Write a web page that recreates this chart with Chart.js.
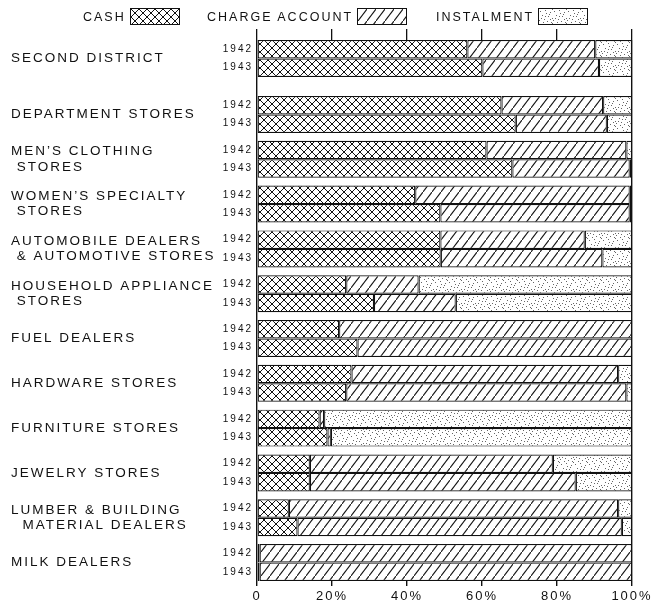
<!DOCTYPE html>
<html>
<head>
<meta charset="utf-8">
<script src="https://cdn.jsdelivr.net/npm/chart.js@4.4.1/dist/chart.umd.min.js"></script>
<style>
    html, body { margin: 0; padding: 0; background: #fff; }
    #wrap { position: relative; width: 660px; height: 605px; }
    #legend { position: absolute; top: 8px; left: 0; width: 660px; height: 20px;
        font: 12.5px "Liberation Sans", sans-serif; letter-spacing: 2px; color: #111; }
    .item { position: absolute; top: 0; display: flex; align-items: center; }
    .item canvas { margin-left: 4px; border: 1.5px solid #111; display: block; }
</style>
</head>
<body>
<div id="wrap">
    <canvas id="chart" width="660" height="605"></canvas>
    <div id="legend"></div>
</div>
<script>
const categories = [
    "SECOND DISTRICT",
    "DEPARTMENT STORES",
    ["MEN\u2019S CLOTHING", " STORES"],
    ["WOMEN\u2019S SPECIALTY", " STORES"],
    ["AUTOMOBILE DEALERS", " & AUTOMOTIVE STORES"],
    ["HOUSEHOLD APPLIANCE", " STORES"],
    "FUEL DEALERS",
    "HARDWARE STORES",
    "FURNITURE STORES",
    "JEWELRY STORES",
    ["LUMBER & BUILDING", "  MATERIAL DEALERS"],
    "MILK DEALERS"
];
const years = ["1942", "1943"];
const seriesNames = ["CASH", "CHARGE ACCOUNT", "INSTALMENT"];

// percent of sales
const cash1942   = [56.1, 65.2, 61.2, 42.2, 48.9, 23.8, 21.9, 25.2, 16.7, 14.1, 8.5, 0.7];
const charge1942 = [34.1, 27.1, 37.3, 57.2, 38.5, 19.3, 78.1, 71.1, 1.2, 64.8, 87.8, 99.3];
const inst1942   = [9.8, 7.7, 1.5, 0.6, 12.6, 56.9, 0, 3.7, 82.1, 21.1, 3.7, 0];

const cash1943   = [60.1, 69.0, 68.1, 48.9, 49.0, 31.2, 26.8, 23.8, 18.8, 14.1, 10.8, 0.7];
const charge1943 = [31.1, 24.3, 31.3, 50.5, 43.1, 21.8, 73.2, 74.7, 0.9, 70.9, 86.5, 99.3];
const inst1943   = [8.8, 6.7, 0.6, 0.6, 7.9, 47.0, 0, 1.5, 80.3, 15.0, 2.7, 0];

const xTicks = [0, 20, 40, 60, 80, 100];

// layout: extra space after the district total
const catPct = 0.825;
const groupPos = categories.map((c, i) => i === 0 ? 0 : i + 0.25);
const half = catPct / 2;
const yearPos = groupPos.flatMap(p => [p - half / 2, p + half / 2]);

function makePattern(kind) {
    const c = document.createElement("canvas");
    const g = c.getContext("2d");
    if (kind === 0) {
        c.width = 8; c.height = 8;
        g.fillStyle = "#fff"; g.fillRect(0, 0, 8, 8);
        g.strokeStyle = "#111"; g.lineWidth = 1;
        g.beginPath();
        g.moveTo(0, 0); g.lineTo(8, 8);
        g.moveTo(8, 0); g.lineTo(0, 8);
        g.stroke();
    } else if (kind === 1) {
        c.width = 9; c.height = 12;
        g.fillStyle = "#fff"; g.fillRect(0, 0, 9, 12);
        g.strokeStyle = "#111"; g.lineWidth = 1.05;
        g.beginPath();
        g.moveTo(-1, 13.33); g.lineTo(10, -1.33);
        g.stroke();
    } else {
        // stipple texture
        c.width = 14; c.height = 14;
        g.fillStyle = "#fff"; g.fillRect(0, 0, 14, 14);
        g.fillStyle = "#666";
        const dots = [[1, 2], [6, 1], [11, 3], [3, 6], [9, 7], [13, 9], [0, 11], [5, 10], [8, 12],
            [12, 13], [4, 13], [10, 5], [7, 4], [2, 9], [11, 10], [13, 0], [6, 7]];
        dots.forEach(([x, y]) => g.fillRect(x, y, 1, 1));
    }
    return c;
}

const ctx = document.getElementById("chart").getContext("2d");
const patterns = [0, 1, 2].map(k => ctx.createPattern(makePattern(k), "repeat"));

const legend = document.getElementById("legend");
const legendLeft = [83, 207, 436];
seriesNames.forEach((name, k) => {
    const item = document.createElement("div");
    item.className = "item";
    item.style.left = legendLeft[k] + "px";
    const sw = document.createElement("canvas");
    sw.width = 48; sw.height = 15;
    const sg = sw.getContext("2d");
    sg.fillStyle = sg.createPattern(makePattern(k), "repeat");
    sg.fillRect(0, 0, 48, 15);
    item.innerHTML = `<span>${name}</span>`;
    item.appendChild(sw);
    legend.appendChild(item);
});

const datasets = [];
[[cash1942, charge1942, inst1942], [cash1943, charge1943, inst1943]].forEach((set, y) => {
    set.forEach((vals, k) => {
        datasets.push({
            label: seriesNames[k] + " " + years[y],
            data: vals.map((v, i) => ({ x: v, y: groupPos[i] })),
            stack: years[y],
            backgroundColor: patterns[k],
            borderColor: "#111",
            borderWidth: 1.2,
            borderSkipped: false,
            categoryPercentage: catPct,
            barPercentage: 1
        });
    });
});

const spacing = {
    id: "spacing",
    beforeLayout(chart) { chart.ctx.letterSpacing = "2px"; },
    beforeDraw(chart) { chart.ctx.letterSpacing = "2px"; }
};

const yMin = groupPos[0] - half;
const yMax = groupPos[groupPos.length - 1] + half;

new Chart(ctx, {
    type: "bar",
    data: { datasets },
    plugins: [spacing],
    options: {
        indexAxis: "y",
        responsive: false,
        animation: false,
        layout: { padding: { left: 11, right: 28, top: 29, bottom: 0 } },
        plugins: { legend: { display: false }, tooltip: { enabled: false } },
        scales: {
            x: {
                type: "linear",
                position: "bottom",
                stacked: true,
                offset: false,
                min: 0,
                max: 100,
                afterBuildTicks: axis => { axis.ticks = xTicks.map(v => ({ value: v })); },
                afterFit: axis => { axis.height = 24; },
                border: { display: false },
                grid: {
                    offset: false,
                    color: c => (c.tick && (c.tick.value === 0 || c.tick.value === 100)) ? "#111" : "rgba(0,0,0,0)",
                    tickColor: "#111",
                    tickLength: 5,
                    lineWidth: 1.4
                },
                ticks: {
                    padding: 3,
                    color: "#111",
                    font: { family: "Liberation Sans", size: 13 },
                    callback: v => v === 0 ? "0" : v + "%"
                }
            },
            x2: {
                type: "linear",
                position: "top",
                offset: false,
                min: 0,
                max: 100,
                afterBuildTicks: axis => { axis.ticks = xTicks.map(v => ({ value: v })); },
                border: { display: false },
                grid: { offset: false, drawOnChartArea: false, color: "#111", tickLength: 11, lineWidth: 1.3 },
                ticks: { display: false }
            },
            y: {
                type: "linear",
                position: "left",
                reverse: true,
                offset: false,
                weight: 1,
                min: yMin,
                max: yMax,
                afterBuildTicks: axis => { axis.ticks = groupPos.map(v => ({ value: v })); },
                afterFit: axis => { axis.width = 202; },
                border: { display: false },
                grid: { display: false, drawTicks: false, offset: false },
                ticks: {
                    autoSkip: false,
                    crossAlign: "far",
                    padding: 0,
                    color: "#111",
                    font: { family: "Liberation Sans", size: 13.5, lineHeight: 1.12 },
                    callback: (v, i) => categories[i]
                }
            },
            yr: {
                type: "linear",
                position: "left",
                reverse: true,
                offset: false,
                weight: 0,
                min: yMin,
                max: yMax,
                afterBuildTicks: axis => { axis.ticks = yearPos.map(v => ({ value: v })); },
                afterFit: axis => { axis.width = 44; },
                border: { display: false },
                grid: { display: false, drawTicks: false, offset: false },
                ticks: {
                    autoSkip: false,
                    padding: 4,
                    color: "#111",
                    font: { family: "Liberation Sans", size: 10 },
                    callback: (v, i) => years[i % 2]
                }
            }
        }
    }
});
</script>
</body>
</html>
